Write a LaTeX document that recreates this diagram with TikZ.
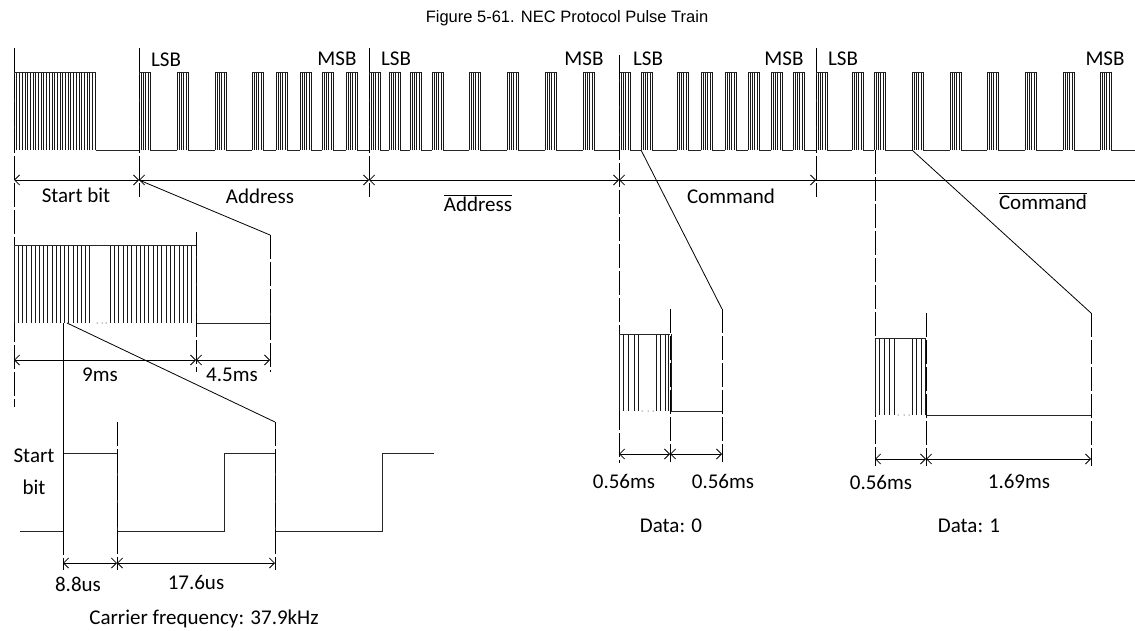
\documentclass[tikz,border=0pt]{standalone}
\usepackage{fontspec}
\setmainfont{Carlito}
\newfontfamily\titlefont{Liberation Sans}
\usetikzlibrary{arrows.meta}

\tikzset{
  signal/.style={line width=0.9pt,black!85},
  carrier/.style={line width=0.6pt,black!90},
  guide/.style={line width=0.8pt,dash pattern=on 24pt off 3pt},
  dimline/.style={line width=0.8pt,{Straight Barb[length=5pt,width=10pt]}-{Straight Barb[length=5pt,width=10pt]}},
  zoomline/.style={line width=0.8pt},
  lbl/.style={font=\fontsize{21}{24}\selectfont,inner sep=0pt}
}

\begin{document}
\begin{tikzpicture}[x=1pt,y=-1pt]
\useasboundingbox (0,0) rectangle (1135,631);

\node[font=\titlefont\fontsize{16.5}{20}\selectfont,inner sep=0pt] (title) at (567,18) {Figure 5-61. NEC Protocol Pulse Train};

% pulse train
\foreach \x in {14,16.7,...,96} \draw[carrier] (\x,72) -- (\x,150);
\draw[signal] (14,72) -- (96,72);
\foreach \x [remember=\x as \lastx (initially 85)] in {139,177,215,252,276,300,322,346,369,389,410,432,469,507,545,583,619,641,677,701,725,748,771,793,816,852,874,912,950,987,1025,1063,1100} {
  \foreach \d in {0,2.2,4.4,6.6,8.8,11} \draw[carrier] (\x+\d,72) -- (\x+\d,150);
  \draw[signal] (\x,72) -- (\x+11,72);
  \draw[signal] (\lastx+11,150) -- (\x,150);
}
\draw[signal] (1111,150) -- (1135,150);

\node[lbl] (lsbA) at (166,60) {LSB};
\node[lbl] (msbA) at (337,59) {MSB};
\node[lbl] (lsbB) at (396,59) {LSB};
\node[lbl] (msbB) at (584,59) {MSB};
\node[lbl] (lsbC) at (648,59) {LSB};
\node[lbl] (msbC) at (784,59) {MSB};
\node[lbl] (lsbD) at (843,59) {LSB};
\node[lbl] (msbD) at (1105,59) {MSB};

% field boundaries
\draw[guide] (14,48) -- (14,407);
\draw[guide] (139,48) -- (139,197);
\draw[guide] (369,48) -- (369,197);
\draw[guide] (619,55) -- (619,463);
\draw[guide] (816,48) -- (816,197);
\draw[guide] (875,150) -- (875,466);

\coordinate (fieldA) at (14,180);
\coordinate (fieldB) at (139,180);
\coordinate (fieldC) at (369,180);
\coordinate (fieldD) at (619,180);
\coordinate (fieldE) at (816,180);
\coordinate (fieldF) at (1135,180);
\draw[dimline] (fieldA) -- (fieldB);
\draw[dimline] (fieldB) -- (fieldC);
\draw[dimline] (fieldC) -- (fieldD);
\draw[dimline] (fieldD) -- (fieldE);
\draw[dimline,-] (fieldE) -- (fieldF);
\draw[dimline,-] (fieldE) -- ++(-6,0);

\node[lbl] (startbit) at (76,195) {Start bit};
\node[lbl] (address) at (260,196) {Address};
\node[lbl] (naddress) at (478,203) {$\overline{\mbox{Address}}$};
\node[lbl] (command) at (731,196) {Command};
\node[lbl] (ncommand) at (1043,201) {$\overline{\mbox{Command}}$};

% start pulse
\foreach \x in {14,18.2,...,91} \draw[carrier] (\x,245) -- (\x,323);
\foreach \x in {110,114.3,...,197} \draw[carrier] (\x,245) -- (\x,323);
\foreach \x in {97,102,106} \fill (\x,323) circle (0.5);
\draw[signal] (14,245) -- (196,245);
\draw[signal] (196,323) -- (270,323) -- (270,300);
\draw[guide] (196,232) -- (196,372);
\draw[guide] (270,235) -- (270,372);
\draw[zoomline] (fieldB) -- (270,235);

\coordinate (startA) at (14,360);
\coordinate (startB) at (196,360);
\coordinate (startC) at (270,360);
\draw[dimline] (startA) -- (startB);
\draw[dimline] (startB) -- (startC);
\node[lbl] (nine) at (100,375) {9ms};
\node[lbl] (fourfive) at (232,375) {4.5ms};

% carrier
\draw[signal] (20,531) -- (63,531) -- (63,453) -- (117,453) -- (117,531) -- (224.5,531) -- (224.5,453) -- (275,453) -- (275,531) -- (382,531) -- (382,453) -- (434,453);
\draw[zoomline] (63,323) -- (63,531);
\draw[zoomline] (67,323) -- (275,422);
\draw[guide] (63,531) -- (63,570);
\draw[guide] (117,422) -- (117,570);
\draw[guide] (275,422) -- (275,570);

\coordinate (cycleA) at (63,563);
\coordinate (cycleB) at (117,563);
\coordinate (cycleC) at (275,563);
\draw[dimline] (cycleA) -- (cycleB);
\draw[dimline] (cycleB) -- (cycleC);

\node[lbl] (start) at (34,456) {Start};
\node[lbl] (bit) at (34,487) {bit};
\node[lbl] (shortus) at (78,584) {8.8us};
\node[lbl] (longus) at (196,582) {17.6us};
\node[lbl] (carrierfreq) at (204,619) {Carrier frequency: 37.9kHz};

% data 0
\foreach \x in {619,623.4,628.6,633.8,638.6,656,660,665,668,671} \draw[carrier] (\x,334) -- (\x,411);
\foreach \x in {642,648,653} \fill (\x,411) circle (0.5);
\draw[signal] (619,334) -- (670,334);
\draw[signal] (670,411) -- (722,411);
\draw[guide] (670,309) -- (670,462);
\draw[guide] (722,309) -- (722,462);
\draw[zoomline] (641,150) -- (722,309);

\coordinate (zeroA) at (619,454);
\coordinate (zeroB) at (670,454);
\coordinate (zeroC) at (722,454);
\draw[dimline] (zeroA) -- (zeroB);
\draw[dimline] (zeroB) -- (zeroC);
\node[lbl] (zeroHigh) at (624,481) {0.56ms};
\node[lbl] (zeroLow) at (723,481) {0.56ms};
\node[lbl] (datazero) at (671,526) {Data: 0};

% data 1
\foreach \x in {875,879,884,889,894,912,916.5,921,925} \draw[carrier] (\x,338) -- (\x,415);
\foreach \x in {898,904,909} \fill (\x,415) circle (0.5);
\draw[signal] (875,338) -- (926,338);
\draw[signal] (926,415) -- (1091,415);
\draw[guide] (926,313) -- (926,466);
\draw[guide] (1091,313) -- (1091,466);
\draw[zoomline] (912,150) -- (1091,313);

\coordinate (oneA) at (875,459);
\coordinate (oneB) at (926,459);
\coordinate (oneC) at (1091,459);
\draw[dimline] (oneA) -- (oneB);
\draw[dimline] (oneB) -- (oneC);
\node[lbl] (oneHigh) at (881,482) {0.56ms};
\node[lbl] (oneLow) at (1019,481) {1.69ms};
\node[lbl] (dataone) at (969,526) {Data: 1};

\end{tikzpicture}
\end{document}
